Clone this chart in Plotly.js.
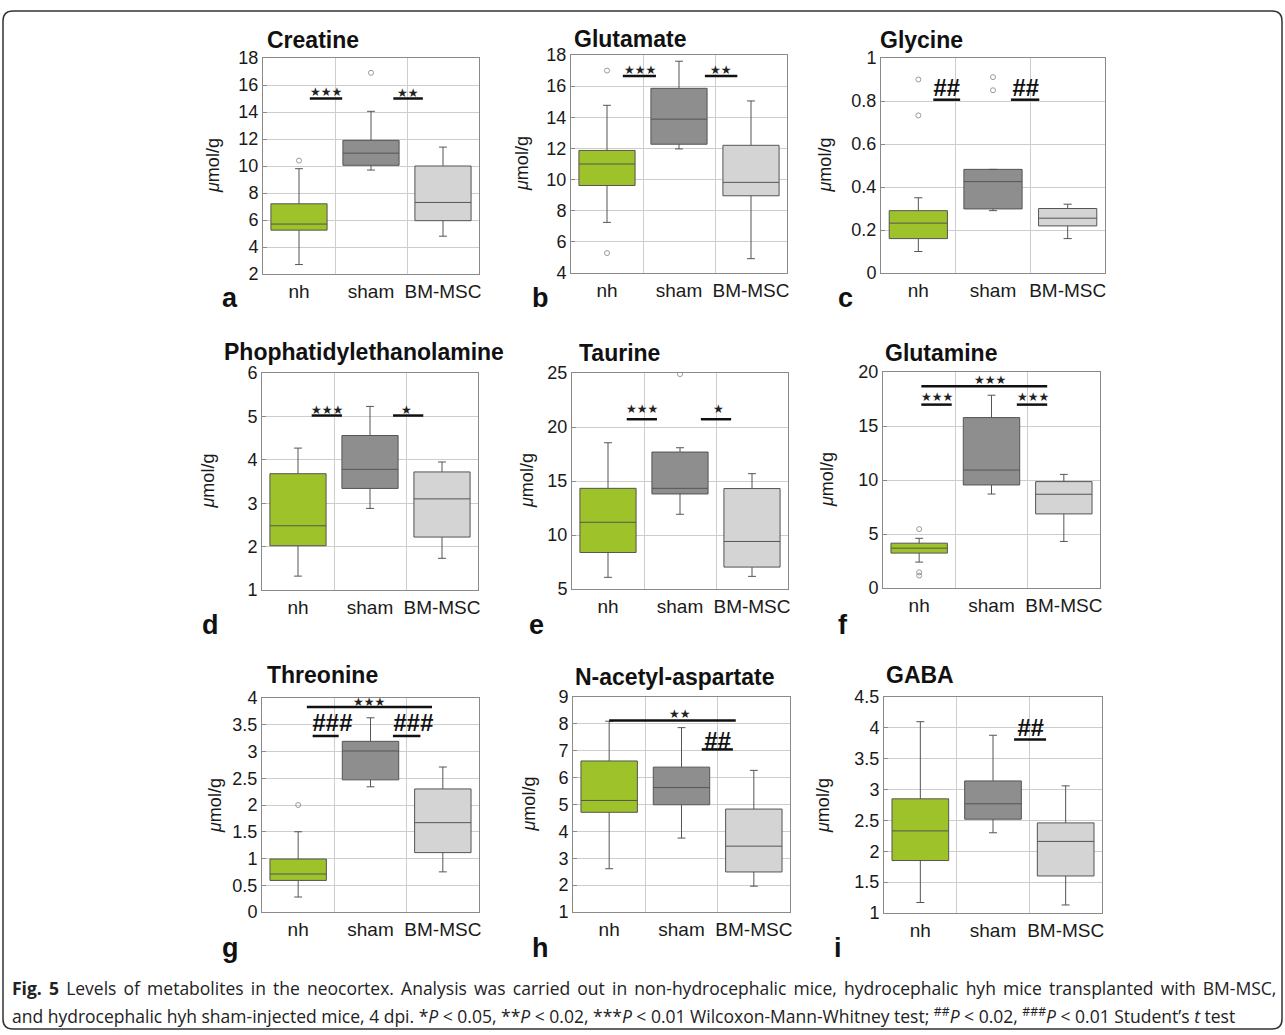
<!DOCTYPE html>
<html>
<head>
<meta charset="utf-8">
<script src="https://cdn.plot.ly/plotly-3.0.1.min.js"></script>
<style>html,body{margin:0;padding:0;background:#fff}</style>
</head>
<body>
<div id="chart" style="width:1285px;height:1035px"></div>
<script>
// ---------- DATA ----------
const groups = ["nh", "sham", "BM-MSC"];
const metabolites = ["Creatine", "Glutamate", "Glycine", "Phophatidylethanolamine", "Taurine",
  "Glutamine", "Threonine", "N-acetyl-aspartate", "GABA"];
const panelLetters = ["a", "b", "c", "d", "e", "f", "g", "h", "i"];

// box statistics per panel (order as metabolites)
const nhLower  = [2.7, 7.25, 0.10, 1.32, 6.08, 2.4, 0.28, 2.61, 1.17];
const nhQ1     = [5.25, 9.62, 0.16, 2.02, 8.38, 3.23, 0.59, 4.71, 1.85];
const nhMedian = [5.7, 11.0, 0.232, 2.48, 11.18, 3.69, 0.71, 5.15, 2.33];
const nhQ3     = [7.2, 11.87, 0.29, 3.68, 14.32, 4.15, 0.99, 6.62, 2.85];
const nhUpper  = [9.8, 14.77, 0.35, 4.27, 18.54, 4.6, 1.50, 8.1, 4.1];

const shamLower  = [9.7, 11.97, 0.29, 2.88, 11.92, 8.7, 2.34, 3.75, 2.3];
const shamQ1     = [10.05, 12.27, 0.298, 3.34, 13.8, 9.54, 2.47, 4.99, 2.52];
const shamMedian = [10.95, 13.88, 0.425, 3.78, 14.32, 10.92, 3.01, 5.63, 2.77];
const shamQ3     = [11.9, 15.86, 0.482, 4.56, 17.68, 15.78, 3.19, 6.39, 3.14];
const shamUpper  = [14.05, 17.6, 0.482, 5.23, 18.08, 17.85, 3.63, 7.86, 3.88];

const bmLower  = [4.8, 4.92, 0.16, 1.73, 6.17, 4.31, 0.75, 1.96, 1.13];
const bmQ1     = [5.95, 8.96, 0.219, 2.22, 7.03, 6.86, 1.11, 2.49, 1.6];
const bmMedian = [7.3, 9.82, 0.255, 3.1, 9.4, 8.68, 1.67, 3.45, 2.16];
const bmQ3     = [10.0, 12.2, 0.30, 3.72, 14.3, 9.85, 2.30, 4.83, 2.46];
const bmUpper  = [11.4, 15.05, 0.32, 3.95, 15.68, 10.52, 2.71, 6.27, 3.06];

// outliers: panel index, group index, value
const outlierPanel = [0, 0, 1, 1, 2, 2, 2, 2, 4, 5, 5, 5, 6];
const outlierGroup = [0, 1, 0, 0, 0, 0, 1, 1, 1, 0, 0, 0, 0];
const outlierValue = [10.4, 16.9, 17.0, 5.28, 0.90, 0.733, 0.911, 0.85, 24.9, 5.45, 1.45, 1.15, 2.0];

// y-axis ranges and tick steps
const yMin  = [2, 4, 0, 1, 5, 0, 0, 1, 1];
const yMax  = [18, 18, 1, 6, 25, 20, 4, 9, 4.5];
const yStep = [2, 2, 0.2, 1, 5, 5, 0.5, 1, 0.5];

// significance markers (Wilcoxon-Mann-Whitney)
const sigPanel  = [0, 0, 1, 1, 3, 3, 4, 4, 5, 5, 5, 6, 7];
const sigLabel  = ["***", "**", "***", "**", "***", "*", "***", "*", "***", "***", "***", "***", "**"];
const sigX0     = [0.15, 1.31, 0.22, 1.36, 0.19, 1.32, 0.26, 1.29, 0.03, 0.03, 1.35, 0.12, 0.0];
const sigX1     = [0.60, 1.72, 0.68, 1.81, 0.61, 1.74, 0.68, 1.71, 1.77, 0.45, 1.77, 1.85, 1.75];
const sigLineY  = [15.0, 15.0, 16.65, 16.65, 5.02, 5.02, 20.72, 20.72, 18.68, 16.98, 16.98, 3.83, 8.13];
const sigTextX  = [0.375, 1.51, 0.46, 1.58, 0.40, 1.51, 0.47, 1.54, 0.98, 0.25, 1.57, 0.98, 0.98];
const sigTextY  = [15.45, 15.4, 17.04, 17.04, 5.15, 5.15, 21.7, 21.7, 19.23, 17.7, 17.7, 3.93, 8.38];

// hash markers (Student's t test)
const hashPanel = [2, 2, 6, 6, 7, 8];
const hashLabel = ["##", "##", "###", "###", "##", "##"];
const hashTextX = [0.38, 1.43, 0.47, 1.60, 1.50, 1.51];
const hashTextY = [0.862, 0.862, 3.55, 3.55, 7.39, 4.0];
const hashX0    = [0.20, 1.24, 0.20, 1.31, 1.28, 1.29];
const hashX1    = [0.56, 1.62, 0.56, 1.69, 1.71, 1.73];
const hashLineY = [0.806, 0.806, 3.29, 3.29, 7.05, 3.81];

// ---------- LAYOUT GEOMETRY (pixels) ----------
const W = 1285, H = 1035;
const rects = [ // [left, top, right, bottom]
  [263, 58, 479, 274], [571, 55, 787, 273], [881, 58, 1105, 273],
  [262, 373, 478, 590], [572, 373, 788, 589], [883, 372, 1100, 588],
  [262, 698, 479, 912], [573, 697, 790, 912], [884, 697, 1102, 913]
];
const titlePos = [[265, 40], [572, 39], [878, 40], [222, 352], [577, 353], [883, 353], [265, 675], [573, 677], [884, 675]];
const letterPos = [[230, 298], [540, 298], [845, 298], [210, 625], [536, 625], [843, 625], [230, 948], [540, 948], [838, 948]];
const yTitleX = [213, 522, 825, 207, 527, 827, 215, 528, 823];

const px = p => p / W;
const py = p => 1 - p / H;

const FONT = "Liberation Sans, Arial, Helvetica, sans-serif";
const CAPFONT = "Open Sans, Noto Sans, sans-serif";
const fills = ["#9dc22a", "#8e8e8e", "#d4d4d4"];
const stats = [
  [nhLower, nhQ1, nhMedian, nhQ3, nhUpper],
  [shamLower, shamQ1, shamMedian, shamQ3, shamUpper],
  [bmLower, bmQ1, bmMedian, bmQ3, bmUpper]
];

const traces = [];
const layout = {
  width: W, height: H,
  margin: {l: 0, r: 0, t: 0, b: 0},
  paper_bgcolor: "#ffffff", plot_bgcolor: "#ffffff",
  showlegend: false,
  font: {family: FONT, color: "#1a1a1a"},
  annotations: [], shapes: []
};

for (let p = 0; p < 9; p++) {
  const n = p + 1;
  const xa = "x" + (n === 1 ? "" : n), ya = "y" + (n === 1 ? "" : n);
  const xk = "xaxis" + (n === 1 ? "" : n), yk = "yaxis" + (n === 1 ? "" : n);
  const r = rects[p];
  layout[xk] = {
    domain: [px(r[0]), px(r[2])], anchor: ya,
    range: [-0.5, 2.5], tickvals: [0, 1, 2], ticktext: groups,
    showgrid: false, zeroline: false, showline: true, mirror: true,
    linecolor: "#8a8a8a", linewidth: 1, ticks: "",
    tickfont: {size: 19, family: FONT, color: "#1a1a1a"},
    minor: {tick0: 0.5, dtick: 1, showgrid: true, gridcolor: "#cdcdcd", gridwidth: 1, ticks: ""},
    fixedrange: true
  };
  layout[yk] = {
    domain: [py(r[3]), py(r[1])], anchor: xa,
    range: [yMin[p], yMax[p]], tick0: yMin[p], dtick: yStep[p],
    showgrid: true, gridcolor: "#cdcdcd", gridwidth: 1,
    zeroline: false, showline: true, mirror: true,
    linecolor: "#8a8a8a", linewidth: 1, ticks: "inside", ticklen: 4, tickcolor: "#8a8a8a",
    tickfont: {size: 18, family: FONT, color: "#1a1a1a"},
    fixedrange: true
  };
  for (let g = 0; g < 3; g++) {
    const s = stats[g];
    traces.push({
      type: "box", xaxis: xa, yaxis: ya, x: [g],
      lowerfence: [s[0][p]], q1: [s[1][p]], median: [s[2][p]], q3: [s[3][p]], upperfence: [s[4][p]],
      width: 0.78, whiskerwidth: 0.14,
      fillcolor: fills[g], line: {color: "#555555", width: 1},
      boxpoints: false, hoverinfo: "skip"
    });
  }
  layout.annotations.push({
    xref: "paper", yref: "paper", x: px(titlePos[p][0]), y: py(titlePos[p][1]),
    xanchor: "left", yanchor: "middle", showarrow: false,
    text: "<b>" + metabolites[p] + "</b>", font: {size: 23, family: FONT, color: "#111"}
  });
  layout.annotations.push({
    xref: "paper", yref: "paper", x: px(letterPos[p][0]), y: py(letterPos[p][1]),
    xanchor: "center", yanchor: "middle", showarrow: false,
    text: "<b>" + panelLetters[p] + "</b>", font: {size: 27, family: FONT, color: "#111"}
  });
  layout.annotations.push({
    xref: "paper", yref: "paper", x: px(yTitleX[p]), y: py((r[1] + r[3]) / 2),
    xanchor: "center", yanchor: "middle", showarrow: false, textangle: -90,
    text: "<i>μ</i>mol/g", font: {size: 18, family: FONT, color: "#1a1a1a"}
  });
}

// outliers
for (let g = 0; g < 3; g++) {
  for (let p = 0; p < 9; p++) {
    const ys = [];
    for (let k = 0; k < outlierValue.length; k++) {
      if (outlierPanel[k] === p && outlierGroup[k] === g) ys.push(outlierValue[k]);
    }
    if (!ys.length) continue;
    const n = p + 1;
    traces.push({
      type: "scatter", mode: "markers",
      xaxis: "x" + (n === 1 ? "" : n), yaxis: "y" + (n === 1 ? "" : n),
      x: ys.map(() => g), y: ys,
      marker: {symbol: "circle-open", size: 5, color: "#9a9a9a", line: {width: 1}},
      hoverinfo: "skip"
    });
  }
}

for (let k = 0; k < sigPanel.length; k++) {
  const n = sigPanel[k] + 1;
  const xa = "x" + (n === 1 ? "" : n), ya = "y" + (n === 1 ? "" : n);
  layout.shapes.push({type: "line", xref: xa, yref: ya, x0: sigX0[k], x1: sigX1[k],
    y0: sigLineY[k], y1: sigLineY[k], line: {color: "#111", width: 2.5}});
  layout.annotations.push({xref: xa, yref: ya, x: sigTextX[k], y: sigTextY[k],
    xanchor: "center", yanchor: "middle", showarrow: false,
    text: sigLabel[k].replace(/\*/g, "★"), font: {size: 12, family: "DejaVu Sans", color: "#222"}});
}
for (let k = 0; k < hashPanel.length; k++) {
  const n = hashPanel[k] + 1;
  const xa = "x" + (n === 1 ? "" : n), ya = "y" + (n === 1 ? "" : n);
  layout.shapes.push({type: "line", xref: xa, yref: ya, x0: hashX0[k], x1: hashX1[k],
    y0: hashLineY[k], y1: hashLineY[k], line: {color: "#111", width: 2.5}});
  layout.annotations.push({xref: xa, yref: ya, x: hashTextX[k], y: hashTextY[k],
    xanchor: "center", yanchor: "middle", showarrow: false,
    text: "<b><i>" + hashLabel[k] + "</i></b>", font: {size: 24, family: FONT, color: "#111"}});
}

// caption (first line justified to full width)
layout.annotations.push({
  xref: "paper", yref: "paper", x: px(10), y: py(988), xanchor: "left", yanchor: "middle", showarrow: false,
  text: "<span style=\"word-spacing:2.6px\"><b>Fig. 5</b> Levels of metabolites in the neocortex. Analysis was carried out in non-hydrocephalic mice, hydrocephalic hyh mice transplanted with BM-MSC,</span>",
  font: {size: 17.5, family: CAPFONT, color: "#222"}
});
layout.annotations.push({
  xref: "paper", yref: "paper", x: px(10), y: py(1015), xanchor: "left", yanchor: "middle", showarrow: false,
  text: "and hydrocephalic hyh sham-injected mice, 4 dpi. *<i>P</i> &lt; 0.05, **<i>P</i> &lt; 0.02, ***<i>P</i> &lt; 0.01 Wilcoxon-Mann-Whitney test; <sup>##</sup><i>P</i> &lt; 0.02, <sup>###</sup><i>P</i> &lt; 0.01 Student’s <i>t</i> test",
  font: {size: 17.5, family: CAPFONT, color: "#222"}
});

// rounded border
(function () {
  const x0 = 3, y0 = 11, x1 = 1282, y1 = 1029, rr = 10;
  const P = (x, y) => px(x).toFixed(5) + "," + py(y).toFixed(5);
  const path = "M" + P(x0 + rr, y0) + " L" + P(x1 - rr, y0) + " Q" + P(x1, y0) + " " + P(x1, y0 + rr) +
    " L" + P(x1, y1 - rr) + " Q" + P(x1, y1) + " " + P(x1 - rr, y1) +
    " L" + P(x0 + rr, y1) + " Q" + P(x0, y1) + " " + P(x0, y1 - rr) +
    " L" + P(x0, y0 + rr) + " Q" + P(x0, y0) + " " + P(x0 + rr, y0) + " Z";
  layout.shapes.push({type: "path", xref: "paper", yref: "paper", path: path, line: {color: "#333", width: 1.5}});
})();

Plotly.newPlot("chart", traces, layout, {staticPlot: true, displayModeBar: false});
</script>
</body>
</html>
